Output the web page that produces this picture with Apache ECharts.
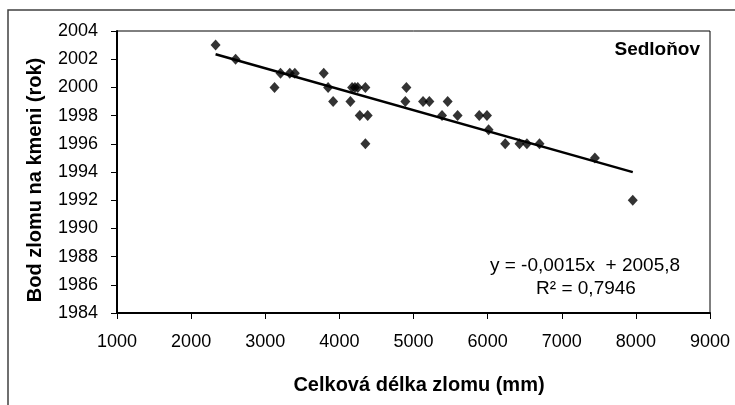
<!DOCTYPE html>
<html><head><meta charset="utf-8">
<script src="https://cdn.jsdelivr.net/npm/echarts@6/dist/echarts.min.js"></script>
<style>html,body{margin:0;padding:0;background:#fff}#c{width:735px;height:405px}</style>
</head><body><div id="c"></div>
<script>
const lengthsMm = [2330,2600,3125,3206,3331,3399,3789,3848,3916,4149,4172,4210,4248,4351,4275,4382,4351,4904,4890,5129,5214,5461,5385,5595,5887,5991,6013,6237,6430,6530,6700,7447,7958];
const breakYears = [2003,2002,2000,2001,2001,2001,2001,2000,1999,1999,2000,2000,2000,2000,1998,1998,1996,2000,1999,1999,1999,1999,1998,1998,1998,1998,1997,1996,1996,1996,1996,1995,1992];
const xTicks = [1000,2000,3000,4000,5000,6000,7000,8000,9000];
const yTicks = [1984,1986,1988,1990,1992,1994,1996,1998,2000,2002,2004];
const siteName = 'Sedloňov';
const eqText = 'y = -0,0015x  + 2005,8';
const r2Text = 'R² = 0,7946';

const pts = lengthsMm.map((x,i)=>[x, breakYears[i]]);
// least squares fit (as Excel trendline)
const n = pts.length;
let sx=0, sy=0, sxx=0, sxy=0;
pts.forEach(([x,y])=>{sx+=x;sy+=y;sxx+=x*x;sxy+=x*y;});
const slope = (n*sxy - sx*sy)/(n*sxx - sx*sx);
const icpt = (sy - slope*sx)/n;
const xmin = Math.min(...lengthsMm), xmax = Math.max(...lengthsMm);
const trend = [[xmin, icpt+slope*xmin],[xmax, icpt+slope*xmax]];

const FONT = '"Liberation Sans", Arial, sans-serif';
const chart = echarts.init(document.getElementById('c'), null, {renderer:'canvas'});
chart.setOption({
  animation:false,
  grid:{left:117, right:25, top:31, bottom:92, show:true, borderColor:'#000', borderWidth:1, backgroundColor:'transparent'},
  xAxis:{type:'value', min:xTicks[0], max:xTicks[xTicks.length-1], interval:1000,
    axisLine:{show:true, onZero:false, lineStyle:{color:'#000', width:2}},
    axisTick:{show:true, inside:false, length:6, lineStyle:{color:'#000', width:1}},
    axisLabel:{color:'#000', fontFamily:FONT, fontSize:18, margin:20, formatter:v=>String(v)},
    splitLine:{show:false}},
  yAxis:{type:'value', min:yTicks[0], max:yTicks[yTicks.length-1], interval:2,
    axisLine:{show:true, onZero:false, lineStyle:{color:'#000', width:2}},
    axisTick:{show:true, inside:false, length:6, lineStyle:{color:'#000', width:1}},
    axisLabel:{color:'#000', fontFamily:FONT, fontSize:18, margin:19, formatter:v=>String(v)},
    splitLine:{show:false}},
  series:[
    {type:'scatter', data:pts, symbol:'diamond', symbolSize:[10,11], itemStyle:{color:'#000'}, z:3},
    {type:'line', data:trend, symbol:'none', lineStyle:{color:'#000', width:2.5}, z:2}
  ],
  graphic:[
    {type:'rect', shape:{x:8, y:10, width:740, height:420}, style:{fill:'none', stroke:'#404040', lineWidth:1.5}, silent:true},
    {type:'text', x:419, y:385, style:{text:'Celková délka zlomu (mm)', font:'bold 20px '+FONT, fill:'#000', textAlign:'center', textVerticalAlign:'middle'}},
    {type:'text', x:35, y:180, rotation:Math.PI/2, style:{text:'Bod zlomu na kmeni (rok)', font:'bold 20px '+FONT, fill:'#000', textAlign:'center', textVerticalAlign:'middle'}},
    {type:'text', x:700, y:50, style:{text:siteName, font:'bold 19px '+FONT, fill:'#000', textAlign:'right', textVerticalAlign:'middle'}},
    {type:'text', x:585, y:266, style:{text:eqText, font:'19px '+FONT, fill:'#000', textAlign:'center', textVerticalAlign:'middle'}},
    {type:'text', x:586, y:289, style:{text:r2Text, font:'19px '+FONT, fill:'#000', textAlign:'center', textVerticalAlign:'middle'}}
  ]
});
</script></body></html>
